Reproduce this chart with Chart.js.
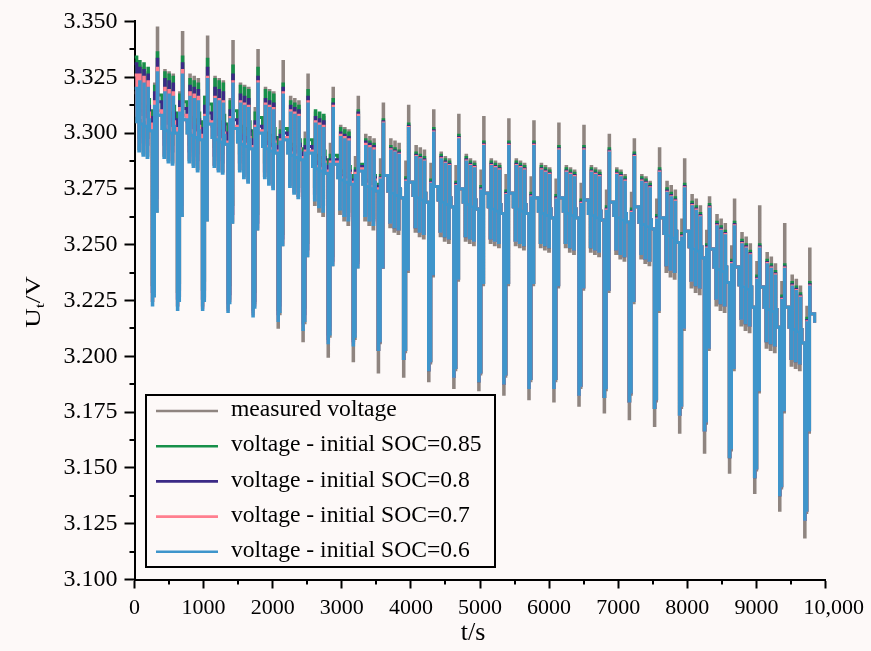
<!DOCTYPE html>
<html>
<head>
<meta charset="utf-8">
<title>Terminal voltage under DST cycles</title>
<script src="https://cdn.jsdelivr.net/npm/chart.js@4.4.1/dist/chart.umd.min.js"></script>
<style>
  html, body { margin: 0; padding: 0; background: #fdf9f8; }
  canvas { display: block; }
</style>
</head>
<body>
<canvas id="voltageChart" width="871" height="651"></canvas>
<script>
// axis ticks
const xTickValues = [0, 1000, 2000, 3000, 4000, 5000, 6000, 7000, 8000, 9000, 10000];
const xTickLabels = ["0", "1000", "2000", "3000", "4000", "5000", "6000", "7000", "8000", "9000", "   10,000"];
const xMinorTicks = [500, 1500, 2500, 3500, 4500, 5500, 6500, 7500, 8500, 9500];
const yTickValues = [3.1, 3.125, 3.15, 3.175, 3.2, 3.225, 3.25, 3.275, 3.3, 3.325, 3.35];
const yTickLabels = ["3.100", "3.125", "3.150", "3.175", "3.200", "3.225", "3.250", "3.275", "3.300", "3.325", "3.350"];
const yMinorTicks = [3.1125, 3.1375, 3.1625, 3.1875, 3.2125, 3.2375, 3.2625, 3.2875, 3.3125, 3.3375];
const xTitle = "t/s";

const seriesLabels = [
  "measured voltage",
  "voltage - initial SOC=0.85",
  "voltage - initial SOC=0.8",
  "voltage - initial SOC=0.7",
  "voltage - initial SOC=0.6"
];

// time base (s): start of the big discharge pulse of each cycle, and step offsets inside a cycle
const cycleStart = [257, 620, 982, 1350, 1712, 2076, 2436, 2800, 3163, 3526, 3892, 4255, 4618, 4980,
  5342, 5705, 6066, 6429, 6796, 7158, 7523, 7886, 8246, 8608, 8972, 9334, 9697];
const stepOffset = [0, 8, 32, 40, 72, 80, 140, 168, 180, 188, 228, 240, 248, 288, 300, 308, 324];
const firstTimes = [0, 34, 62, 74, 82, 122, 134, 142, 182, 194, 202, 218];
const endTime = 9842;

// voltages in mV, one row per cycle (row 0: partial cycle before the first big pulse)
const measuredMv = [
  [3318, 3305, 3293, 3330, 3304, 3291, 3329, 3303, 3290, 3327, 3306, 3301],
  [3225, 3229, 3322, 3265, 3347, 3308, 3302, 3290, 3328, 3301, 3288, 3327, 3300, 3287, 3326, 3303, 3300],
  [3223, 3227, 3318, 3263, 3345, 3306, 3300, 3288, 3326, 3299, 3286, 3325, 3298, 3284, 3324, 3301, 3297],
  [3223, 3227, 3316, 3261, 3343, 3304, 3298, 3286, 3325, 3297, 3284, 3324, 3296, 3283, 3323, 3299, 3295],
  [3222, 3226, 3315, 3260, 3341, 3302, 3296, 3284, 3322, 3295, 3281, 3321, 3294, 3279, 3320, 3297, 3293],
  [3220, 3224, 3311, 3257, 3337, 3300, 3294, 3281, 3320, 3293, 3278, 3319, 3292, 3276, 3318, 3295, 3291],
  [3213, 3219, 3305, 3250, 3332, 3297, 3291, 3277, 3316, 3290, 3274, 3315, 3289, 3272, 3314, 3292, 3288],
  [3207, 3215, 3300, 3245, 3326, 3291, 3285, 3268, 3309, 3284, 3265, 3308, 3283, 3263, 3307, 3286, 3282],
  [3200, 3209, 3295, 3241, 3320, 3286, 3280, 3264, 3303, 3279, 3261, 3302, 3278, 3259, 3301, 3281, 3277],
  [3198, 3208, 3289, 3240, 3316, 3283, 3277, 3261, 3299, 3276, 3259, 3298, 3275, 3257, 3297, 3278, 3274],
  [3193, 3206, 3288, 3240, 3313, 3281, 3274, 3258, 3297, 3273, 3256, 3296, 3272, 3255, 3295, 3275, 3271],
  [3191, 3202, 3287, 3238, 3312, 3278, 3272, 3256, 3294, 3271, 3254, 3293, 3270, 3253, 3292, 3273, 3269],
  [3189, 3197, 3286, 3236, 3310, 3276, 3270, 3254, 3291, 3269, 3252, 3289, 3268, 3251, 3288, 3271, 3267],
  [3186, 3194, 3285, 3234, 3308, 3275, 3269, 3252, 3290, 3268, 3251, 3288, 3267, 3250, 3287, 3270, 3266],
  [3185, 3192, 3283, 3232, 3307, 3273, 3267, 3251, 3288, 3266, 3250, 3287, 3265, 3249, 3286, 3268, 3264],
  [3183, 3191, 3281, 3232, 3306, 3273, 3267, 3250, 3288, 3266, 3249, 3287, 3265, 3248, 3286, 3268, 3264],
  [3181, 3189, 3280, 3232, 3305, 3271, 3265, 3249, 3286, 3264, 3248, 3285, 3263, 3247, 3284, 3266, 3262],
  [3180, 3189, 3279, 3231, 3304, 3271, 3265, 3249, 3285, 3264, 3247, 3284, 3263, 3246, 3283, 3266, 3262],
  [3178, 3186, 3277, 3230, 3303, 3270, 3264, 3247, 3285, 3263, 3246, 3284, 3262, 3245, 3283, 3265, 3261],
  [3175, 3185, 3274, 3229, 3299, 3269, 3263, 3246, 3284, 3262, 3244, 3283, 3261, 3243, 3281, 3264, 3260],
  [3172, 3183, 3273, 3224, 3297, 3267, 3260, 3244, 3281, 3259, 3242, 3280, 3258, 3241, 3278, 3261, 3257],
  [3169, 3180, 3270, 3220, 3293, 3262, 3255, 3238, 3278, 3254, 3236, 3276, 3253, 3235, 3274, 3256, 3251],
  [3166, 3177, 3261, 3212, 3288, 3256, 3249, 3231, 3272, 3248, 3229, 3270, 3247, 3228, 3267, 3249, 3244],
  [3157, 3170, 3256, 3203, 3271, 3248, 3240, 3223, 3263, 3239, 3221, 3261, 3238, 3220, 3259, 3240, 3233],
  [3148, 3158, 3249, 3194, 3270, 3240, 3232, 3214, 3255, 3231, 3212, 3253, 3230, 3211, 3250, 3231, 3222],
  [3139, 3149, 3242, 3184, 3267, 3231, 3222, 3204, 3246, 3221, 3203, 3244, 3220, 3202, 3241, 3221, 3213],
  [3131, 3141, 3233, 3175, 3259, 3222, 3213, 3196, 3236, 3212, 3195, 3234, 3211, 3194, 3231, 3212, 3206],
  [3119, 3130, 3222, 3166, 3248, 3219, 3215]
];

const soc085Mv = [
  [3334, 3314, 3301, 3332, 3313, 3299, 3331, 3312, 3298, 3329, 3315, 3310],
  [3232, 3236, 3321, 3274, 3336, 3317, 3311, 3298, 3327, 3310, 3296, 3326, 3309, 3295, 3325, 3312, 3309],
  [3229, 3233, 3317, 3271, 3334, 3314, 3308, 3295, 3324, 3307, 3293, 3323, 3306, 3291, 3322, 3309, 3305],
  [3230, 3234, 3316, 3270, 3333, 3313, 3307, 3294, 3324, 3306, 3292, 3323, 3305, 3291, 3322, 3308, 3304],
  [3228, 3232, 3314, 3268, 3330, 3310, 3304, 3291, 3321, 3303, 3288, 3320, 3302, 3286, 3319, 3305, 3301],
  [3225, 3229, 3309, 3264, 3329, 3307, 3301, 3287, 3319, 3300, 3284, 3318, 3299, 3282, 3317, 3302, 3298],
  [3221, 3225, 3301, 3255, 3322, 3302, 3296, 3281, 3314, 3295, 3278, 3313, 3294, 3276, 3312, 3297, 3293],
  [3218, 3222, 3297, 3251, 3319, 3297, 3291, 3276, 3310, 3290, 3273, 3309, 3289, 3271, 3308, 3292, 3288],
  [3210, 3214, 3290, 3245, 3315, 3290, 3284, 3270, 3302, 3283, 3267, 3301, 3282, 3265, 3300, 3285, 3281],
  [3208, 3212, 3284, 3243, 3310, 3286, 3280, 3266, 3297, 3279, 3264, 3296, 3278, 3262, 3295, 3281, 3277],
  [3203, 3207, 3281, 3240, 3306, 3281, 3274, 3260, 3294, 3273, 3258, 3293, 3272, 3257, 3292, 3275, 3271],
  [3199, 3203, 3280, 3239, 3304, 3278, 3272, 3258, 3291, 3271, 3256, 3290, 3270, 3255, 3289, 3273, 3269],
  [3194, 3198, 3279, 3237, 3302, 3276, 3270, 3256, 3290, 3269, 3254, 3288, 3268, 3253, 3287, 3271, 3267],
  [3191, 3195, 3278, 3235, 3299, 3275, 3269, 3254, 3289, 3268, 3253, 3287, 3267, 3252, 3286, 3270, 3266],
  [3189, 3193, 3276, 3233, 3296, 3273, 3267, 3253, 3287, 3266, 3252, 3286, 3265, 3251, 3285, 3268, 3264],
  [3188, 3192, 3274, 3233, 3296, 3273, 3267, 3252, 3287, 3266, 3251, 3286, 3265, 3250, 3285, 3268, 3264],
  [3186, 3190, 3273, 3233, 3296, 3271, 3265, 3251, 3285, 3264, 3250, 3284, 3263, 3249, 3283, 3266, 3262],
  [3186, 3190, 3272, 3232, 3294, 3271, 3265, 3251, 3284, 3264, 3249, 3283, 3263, 3248, 3282, 3266, 3262],
  [3183, 3187, 3270, 3231, 3294, 3270, 3264, 3249, 3284, 3263, 3248, 3283, 3262, 3247, 3282, 3265, 3261],
  [3182, 3186, 3267, 3230, 3293, 3269, 3263, 3248, 3283, 3262, 3246, 3282, 3261, 3245, 3280, 3264, 3260],
  [3180, 3184, 3266, 3225, 3291, 3267, 3260, 3246, 3280, 3259, 3244, 3279, 3258, 3243, 3277, 3261, 3257],
  [3177, 3181, 3263, 3221, 3284, 3262, 3255, 3241, 3275, 3254, 3239, 3273, 3253, 3238, 3271, 3256, 3251],
  [3174, 3178, 3255, 3213, 3277, 3256, 3249, 3234, 3269, 3248, 3232, 3267, 3247, 3231, 3264, 3249, 3244],
  [3167, 3171, 3250, 3204, 3268, 3248, 3240, 3226, 3260, 3239, 3224, 3258, 3238, 3223, 3256, 3240, 3233],
  [3155, 3159, 3243, 3195, 3260, 3240, 3232, 3217, 3252, 3231, 3215, 3250, 3230, 3214, 3247, 3231, 3222],
  [3146, 3150, 3236, 3185, 3250, 3231, 3222, 3207, 3243, 3221, 3206, 3241, 3220, 3205, 3238, 3221, 3213],
  [3138, 3142, 3227, 3176, 3241, 3222, 3213, 3199, 3233, 3212, 3198, 3231, 3211, 3197, 3228, 3212, 3206],
  [3127, 3131, 3217, 3167, 3233, 3219, 3215]
];

const soc08Mv = [
  [3331, 3311, 3298, 3329, 3310, 3296, 3328, 3309, 3295, 3326, 3312, 3307],
  [3229, 3233, 3318, 3271, 3333, 3314, 3308, 3295, 3324, 3307, 3293, 3323, 3306, 3292, 3322, 3309, 3306],
  [3226, 3230, 3314, 3268, 3331, 3311, 3305, 3292, 3321, 3304, 3290, 3320, 3303, 3288, 3319, 3306, 3302],
  [3226, 3230, 3312, 3266, 3329, 3309, 3303, 3290, 3320, 3302, 3288, 3319, 3301, 3287, 3318, 3304, 3300],
  [3224, 3228, 3310, 3264, 3326, 3306, 3300, 3287, 3317, 3299, 3284, 3316, 3298, 3282, 3315, 3301, 3297],
  [3221, 3225, 3305, 3260, 3325, 3303, 3297, 3283, 3315, 3296, 3280, 3314, 3295, 3278, 3313, 3298, 3294],
  [3219, 3223, 3299, 3253, 3320, 3300, 3294, 3279, 3312, 3293, 3276, 3311, 3292, 3274, 3310, 3295, 3291],
  [3215, 3219, 3294, 3248, 3316, 3294, 3288, 3273, 3307, 3287, 3270, 3306, 3286, 3268, 3305, 3289, 3285],
  [3208, 3212, 3288, 3243, 3313, 3288, 3282, 3268, 3300, 3281, 3265, 3299, 3280, 3263, 3298, 3283, 3279],
  [3207, 3211, 3283, 3242, 3309, 3285, 3279, 3265, 3296, 3278, 3263, 3295, 3277, 3261, 3294, 3280, 3276],
  [3203, 3207, 3280, 3240, 3305, 3281, 3274, 3260, 3293, 3273, 3258, 3292, 3272, 3257, 3291, 3275, 3271],
  [3199, 3203, 3279, 3239, 3303, 3278, 3272, 3258, 3290, 3271, 3256, 3289, 3270, 3255, 3288, 3273, 3269],
  [3194, 3198, 3278, 3237, 3301, 3276, 3270, 3256, 3289, 3269, 3254, 3287, 3268, 3253, 3286, 3271, 3267],
  [3191, 3195, 3277, 3235, 3298, 3275, 3269, 3254, 3288, 3268, 3253, 3286, 3267, 3252, 3285, 3270, 3266],
  [3189, 3193, 3275, 3233, 3295, 3273, 3267, 3253, 3286, 3266, 3252, 3285, 3265, 3251, 3284, 3268, 3264],
  [3188, 3192, 3273, 3233, 3295, 3273, 3267, 3252, 3286, 3266, 3251, 3285, 3265, 3250, 3284, 3268, 3264],
  [3186, 3190, 3272, 3233, 3295, 3271, 3265, 3251, 3284, 3264, 3250, 3283, 3263, 3249, 3282, 3266, 3262],
  [3186, 3190, 3271, 3232, 3293, 3271, 3265, 3251, 3283, 3264, 3249, 3282, 3263, 3248, 3281, 3266, 3262],
  [3183, 3187, 3269, 3231, 3293, 3270, 3264, 3249, 3283, 3263, 3248, 3282, 3262, 3247, 3281, 3265, 3261],
  [3182, 3186, 3266, 3230, 3292, 3269, 3263, 3248, 3282, 3262, 3246, 3281, 3261, 3245, 3279, 3264, 3260],
  [3180, 3184, 3265, 3225, 3290, 3267, 3260, 3246, 3279, 3259, 3244, 3278, 3258, 3243, 3276, 3261, 3257],
  [3177, 3181, 3262, 3221, 3283, 3262, 3255, 3241, 3274, 3254, 3239, 3272, 3253, 3238, 3270, 3256, 3251],
  [3174, 3178, 3254, 3213, 3276, 3256, 3249, 3234, 3268, 3248, 3232, 3266, 3247, 3231, 3263, 3249, 3244],
  [3167, 3171, 3249, 3204, 3267, 3248, 3240, 3226, 3259, 3239, 3224, 3257, 3238, 3223, 3255, 3240, 3233],
  [3155, 3159, 3242, 3195, 3259, 3240, 3232, 3217, 3251, 3231, 3215, 3249, 3230, 3214, 3246, 3231, 3222],
  [3146, 3150, 3235, 3185, 3249, 3231, 3222, 3207, 3242, 3221, 3206, 3240, 3220, 3205, 3237, 3221, 3213],
  [3138, 3142, 3226, 3176, 3240, 3222, 3213, 3199, 3232, 3212, 3198, 3230, 3211, 3197, 3227, 3212, 3206],
  [3127, 3131, 3216, 3167, 3232, 3219, 3215]
];

const soc07Mv = [
  [3326, 3308, 3295, 3326, 3307, 3293, 3325, 3306, 3292, 3323, 3309, 3304],
  [3225, 3229, 3314, 3267, 3329, 3310, 3304, 3291, 3320, 3303, 3289, 3319, 3302, 3288, 3318, 3305, 3302],
  [3223, 3227, 3311, 3265, 3328, 3308, 3302, 3289, 3318, 3301, 3287, 3317, 3300, 3285, 3316, 3303, 3299],
  [3222, 3226, 3308, 3262, 3325, 3305, 3299, 3286, 3316, 3298, 3284, 3315, 3297, 3283, 3314, 3300, 3296],
  [3221, 3225, 3307, 3261, 3323, 3303, 3297, 3284, 3314, 3296, 3281, 3313, 3295, 3279, 3312, 3298, 3294],
  [3219, 3223, 3303, 3258, 3323, 3301, 3295, 3281, 3313, 3294, 3278, 3312, 3293, 3276, 3311, 3296, 3292],
  [3217, 3221, 3297, 3251, 3318, 3298, 3292, 3277, 3310, 3291, 3274, 3309, 3290, 3272, 3308, 3293, 3289],
  [3213, 3217, 3292, 3246, 3314, 3292, 3286, 3271, 3305, 3285, 3268, 3304, 3284, 3266, 3303, 3287, 3283],
  [3207, 3211, 3287, 3242, 3312, 3287, 3281, 3267, 3299, 3280, 3264, 3298, 3279, 3262, 3297, 3282, 3278],
  [3206, 3210, 3282, 3241, 3308, 3284, 3278, 3264, 3295, 3277, 3262, 3294, 3276, 3260, 3293, 3279, 3275],
  [3203, 3207, 3279.5, 3240, 3304.5, 3281, 3274, 3260, 3292.5, 3273, 3258, 3291.5, 3272, 3257, 3290.5, 3275, 3271],
  [3199, 3203, 3278.5, 3239, 3302.5, 3278, 3272, 3258, 3289.5, 3271, 3256, 3288.5, 3270, 3255, 3287.5, 3273, 3269],
  [3194, 3198, 3277.5, 3237, 3300.5, 3276, 3270, 3256, 3288.5, 3269, 3254, 3286.5, 3268, 3253, 3285.5, 3271, 3267],
  [3191, 3195, 3276.5, 3235, 3297.5, 3275, 3269, 3254, 3287.5, 3268, 3253, 3285.5, 3267, 3252, 3284.5, 3270, 3266],
  [3189, 3193, 3274.5, 3233, 3294.5, 3273, 3267, 3253, 3285.5, 3266, 3252, 3284.5, 3265, 3251, 3283.5, 3268, 3264],
  [3188, 3192, 3272.5, 3233, 3294.5, 3273, 3267, 3252, 3285.5, 3266, 3251, 3284.5, 3265, 3250, 3283.5, 3268, 3264],
  [3186, 3190, 3271.5, 3233, 3294.5, 3271, 3265, 3251, 3283.5, 3264, 3250, 3282.5, 3263, 3249, 3281.5, 3266, 3262],
  [3186, 3190, 3270.5, 3232, 3292.5, 3271, 3265, 3251, 3282.5, 3264, 3249, 3281.5, 3263, 3248, 3280.5, 3266, 3262],
  [3183, 3187, 3268.5, 3231, 3292.5, 3270, 3264, 3249, 3282.5, 3263, 3248, 3281.5, 3262, 3247, 3280.5, 3265, 3261],
  [3182, 3186, 3265.5, 3230, 3291.5, 3269, 3263, 3248, 3281.5, 3262, 3246, 3280.5, 3261, 3245, 3278.5, 3264, 3260],
  [3180, 3184, 3264.5, 3225, 3289.5, 3267, 3260, 3246, 3278.5, 3259, 3244, 3277.5, 3258, 3243, 3275.5, 3261, 3257],
  [3177, 3181, 3261.5, 3221, 3282.5, 3262, 3255, 3241, 3273.5, 3254, 3239, 3271.5, 3253, 3238, 3269.5, 3256, 3251],
  [3174, 3178, 3253.5, 3213, 3275.5, 3256, 3249, 3234, 3267.5, 3248, 3232, 3265.5, 3247, 3231, 3262.5, 3249, 3244],
  [3167, 3171, 3248.5, 3204, 3266.5, 3248, 3240, 3226, 3258.5, 3239, 3224, 3256.5, 3238, 3223, 3254.5, 3240, 3233],
  [3155, 3159, 3241.5, 3195, 3258.5, 3240, 3232, 3217, 3250.5, 3231, 3215, 3248.5, 3230, 3214, 3245.5, 3231, 3222],
  [3146, 3150, 3234.5, 3185, 3248.5, 3231, 3222, 3207, 3241.5, 3221, 3206, 3239.5, 3220, 3205, 3236.5, 3221, 3213],
  [3138, 3142, 3225.5, 3176, 3239.5, 3222, 3213, 3199, 3231.5, 3212, 3198, 3229.5, 3211, 3197, 3226.5, 3212, 3206],
  [3127, 3131, 3215.5, 3167, 3231.5, 3219, 3215]
];

const soc06Mv = [
  [3320, 3305, 3292, 3323, 3304, 3290, 3322, 3303, 3289, 3320, 3306, 3301],
  [3223, 3227, 3312, 3265, 3327, 3308, 3302, 3289, 3318, 3301, 3287, 3317, 3300, 3286, 3316, 3303, 3300],
  [3221, 3225, 3309, 3263, 3326, 3306, 3300, 3287, 3316, 3299, 3285, 3315, 3298, 3283, 3314, 3301, 3297],
  [3221, 3225, 3307, 3261, 3324, 3304, 3298, 3285, 3315, 3297, 3283, 3314, 3296, 3282, 3313, 3299, 3295],
  [3220, 3224, 3306, 3260, 3322, 3302, 3296, 3283, 3313, 3295, 3280, 3312, 3294, 3278, 3311, 3297, 3293],
  [3218, 3222, 3302, 3257, 3322, 3300, 3294, 3280, 3312, 3293, 3277, 3311, 3292, 3275, 3310, 3295, 3291],
  [3216, 3220, 3296, 3250, 3317, 3297, 3291, 3276, 3309, 3290, 3273, 3308, 3289, 3271, 3307, 3292, 3288],
  [3212, 3216, 3291, 3245, 3313, 3291, 3285, 3270, 3304, 3284, 3267, 3303, 3283, 3265, 3302, 3286, 3282],
  [3206, 3210, 3286, 3241, 3311, 3286, 3280, 3266, 3298, 3279, 3263, 3297, 3278, 3261, 3296, 3281, 3277],
  [3205, 3209, 3281, 3240, 3307, 3283, 3277, 3263, 3294, 3276, 3261, 3293, 3275, 3259, 3292, 3278, 3274],
  [3203, 3207, 3279, 3240, 3304, 3281, 3274, 3260, 3292, 3273, 3258, 3291, 3272, 3257, 3290, 3275, 3271],
  [3199, 3203, 3278, 3239, 3302, 3278, 3272, 3258, 3289, 3271, 3256, 3288, 3270, 3255, 3287, 3273, 3269],
  [3194, 3198, 3277, 3237, 3300, 3276, 3270, 3256, 3288, 3269, 3254, 3286, 3268, 3253, 3285, 3271, 3267],
  [3191, 3195, 3276, 3235, 3297, 3275, 3269, 3254, 3287, 3268, 3253, 3285, 3267, 3252, 3284, 3270, 3266],
  [3189, 3193, 3274, 3233, 3294, 3273, 3267, 3253, 3285, 3266, 3252, 3284, 3265, 3251, 3283, 3268, 3264],
  [3188, 3192, 3272, 3233, 3294, 3273, 3267, 3252, 3285, 3266, 3251, 3284, 3265, 3250, 3283, 3268, 3264],
  [3186, 3190, 3271, 3233, 3294, 3271, 3265, 3251, 3283, 3264, 3250, 3282, 3263, 3249, 3281, 3266, 3262],
  [3186, 3190, 3270, 3232, 3292, 3271, 3265, 3251, 3282, 3264, 3249, 3281, 3263, 3248, 3280, 3266, 3262],
  [3183, 3187, 3268, 3231, 3292, 3270, 3264, 3249, 3282, 3263, 3248, 3281, 3262, 3247, 3280, 3265, 3261],
  [3182, 3186, 3265, 3230, 3291, 3269, 3263, 3248, 3281, 3262, 3246, 3280, 3261, 3245, 3278, 3264, 3260],
  [3180, 3184, 3264, 3225, 3289, 3267, 3260, 3246, 3278, 3259, 3244, 3277, 3258, 3243, 3275, 3261, 3257],
  [3177, 3181, 3261, 3221, 3282, 3262, 3255, 3241, 3273, 3254, 3239, 3271, 3253, 3238, 3269, 3256, 3251],
  [3174, 3178, 3253, 3213, 3275, 3256, 3249, 3234, 3267, 3248, 3232, 3265, 3247, 3231, 3262, 3249, 3244],
  [3167, 3171, 3248, 3204, 3266, 3248, 3240, 3226, 3258, 3239, 3224, 3256, 3238, 3223, 3254, 3240, 3233],
  [3155, 3159, 3241, 3195, 3258, 3240, 3232, 3217, 3250, 3231, 3215, 3248, 3230, 3214, 3245, 3231, 3222],
  [3146, 3150, 3234, 3185, 3248, 3231, 3222, 3207, 3241, 3221, 3206, 3239, 3220, 3205, 3236, 3221, 3213],
  [3138, 3142, 3225, 3176, 3239, 3222, 3213, 3199, 3231, 3212, 3198, 3229, 3211, 3197, 3226, 3212, 3206],
  [3127, 3131, 3215, 3167, 3231, 3219, 3215]
];

const BG = "#fdf9f8";
const FONT = "'Liberation Serif', 'Times New Roman', serif";
Chart.defaults.font.family = FONT;
Chart.defaults.color = "#000";

// pair each reading with its time stamp
const toPoints = (rows) => {
  const points = [];
  rows.forEach((row, k) => {
    row.forEach((mv, j) => {
      let t;
      if (k === 0) t = firstTimes[j];
      else if (k === rows.length - 1 && j === row.length - 1) t = endTime;
      else t = cycleStart[k - 1] + stepOffset[j];
      points.push({ x: t, y: mv / 1000 });
    });
  });
  return points;
};

const seriesRows = [measuredMv, soc085Mv, soc08Mv, soc07Mv, soc06Mv];
const colors = ["#8f8580", "#17904a", "#3b2a86", "#ff7f8f", "#3e95cb"];

const decor = {
  id: "decor",
  beforeDraw(chart) {
    const { ctx, width, height } = chart;
    ctx.save();
    ctx.fillStyle = BG;
    ctx.fillRect(0, 0, width, height);
    ctx.restore();
  },
  afterDraw(chart) {
    const { ctx, chartArea } = chart;
    const xs = chart.scales.x, ys = chart.scales.y;
    ctx.save();
    ctx.strokeStyle = "#000";
    ctx.lineWidth = 2;
    xMinorTicks.forEach((v) => {
      const px = Math.round(xs.getPixelForValue(v));
      ctx.beginPath();
      ctx.moveTo(px, chartArea.bottom);
      ctx.lineTo(px, chartArea.bottom + 5);
      ctx.stroke();
    });
    yMinorTicks.forEach((v) => {
      const py = Math.round(ys.getPixelForValue(v));
      ctx.beginPath();
      ctx.moveTo(chartArea.left, py);
      ctx.lineTo(chartArea.left - 5, py);
      ctx.stroke();
    });

    // legend box
    ctx.fillStyle = BG;
    ctx.fillRect(146, 395, 349, 172);
    ctx.strokeRect(146, 395, 349, 172);
    ctx.font = "23.6px " + FONT;
    ctx.textAlign = "left";
    ctx.textBaseline = "middle";
    chart.data.datasets.forEach((ds, i) => {
      const rowY = 411 + i * 35.2;
      ctx.strokeStyle = ds.borderColor;
      ctx.lineWidth = 2.6;
      ctx.beginPath();
      ctx.moveTo(156, rowY);
      ctx.lineTo(218, rowY);
      ctx.stroke();
      ctx.fillStyle = "#000";
      ctx.fillText(ds.label, 231, rowY - 1);
    });

    // axis titles
    ctx.font = "26px " + FONT;
    ctx.textAlign = "center";
    ctx.fillText(xTitle, 473, 633);

    ctx.translate(33, 302);
    ctx.rotate(-Math.PI / 2);
    ctx.scale(1, 0.75);
    ctx.textAlign = "left";
    ctx.textBaseline = "alphabetic";
    const big = "27px " + FONT, small = "18px " + FONT;
    ctx.font = big;
    const wU = ctx.measureText("U").width;
    const wV = ctx.measureText("/V").width;
    ctx.font = small;
    const wt = ctx.measureText("t").width;
    const x0 = -(wU + wt + wV) / 2;
    ctx.font = big;
    ctx.fillText("U", x0, 9);
    ctx.font = small;
    ctx.fillText("t", x0 + wU, 14);
    ctx.font = big;
    ctx.fillText("/V", x0 + wU + wt, 9);
    ctx.restore();
  }
};

new Chart(document.getElementById("voltageChart"), {
  type: "line",
  data: {
    datasets: seriesRows.map((rows, i) => ({
      label: seriesLabels[i],
      data: toPoints(rows),
      borderColor: colors[i],
      borderWidth: 3,
      stepped: true,
      pointRadius: 0,
      fill: false,
      order: seriesRows.length - i
    }))
  },
  options: {
    responsive: false,
    animation: false,
    devicePixelRatio: 1,
    events: [],
    parsing: false,
    layout: { padding: { left: 0, top: 20.7, right: 45, bottom: 0 } },
    plugins: { legend: { display: false }, tooltip: { enabled: false } },
    scales: {
      x: {
        type: "linear",
        min: 0,
        max: 10000,
        afterBuildTicks: (s) => { s.ticks = xTickValues.map((v) => ({ value: v })); },
        afterFit: (s) => { s.height = 71.5; },
        ticks: {
          callback: (v, i) => xTickLabels[i],
          font: { size: 22 },
          color: "#000",
          padding: 7,
          maxRotation: 0,
          autoSkip: false
        },
        grid: { drawOnChartArea: false, drawTicks: true, tickLength: 9, tickWidth: 2, tickColor: "#000" },
        border: { display: true, color: "#000", width: 2 }
      },
      y: {
        min: 3.1,
        max: 3.35,
        afterBuildTicks: (s) => { s.ticks = yTickValues.map((v) => ({ value: v })); },
        afterFit: (s) => { s.width = 134.5; },
        ticks: {
          callback: (v, i) => yTickLabels[i],
          font: { size: 24 },
          color: "#000",
          padding: 7,
          autoSkip: false
        },
        grid: { drawOnChartArea: false, drawTicks: true, tickLength: 10, tickWidth: 2, tickColor: "#000" },
        border: { display: true, color: "#000", width: 2 }
      }
    }
  },
  plugins: [decor]
});
</script>
</body>
</html>
